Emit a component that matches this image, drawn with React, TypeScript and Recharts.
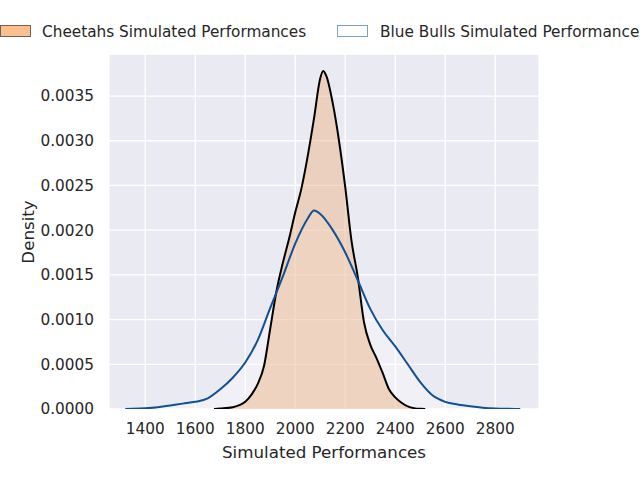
import { Area, CartesianGrid, ComposedChart, Label, Line, XAxis, YAxis } from 'recharts';

const cheetahX = [
  1675, 1700, 1750, 1800, 1825, 1850, 1875, 1900, 1925, 1950, 1975, 2000, 2025, 2050, 2075,
  2100, 2112, 2125, 2150, 2175, 2200, 2225, 2250, 2275, 2300, 2325, 2350, 2375, 2400, 2425,
  2450, 2475, 2500, 2520,
];
const cheetahDensity = [
  0, 0.000005, 0.00002, 0.00008, 0.00016, 0.00028, 0.00048, 0.0009, 0.00132, 0.00163, 0.0019,
  0.0022, 0.00247, 0.00283, 0.00325, 0.0037, 0.00378, 0.00372, 0.00342, 0.003, 0.00248, 0.00188,
  0.00148, 0.00097, 0.00072, 0.00057, 0.0004, 0.00022, 0.00013, 0.00007, 0.00003, 0.00001,
  0.000002, 0,
];

const bullsX = [
  1320, 1350, 1400, 1450, 1500, 1550, 1600, 1650, 1700, 1750, 1800, 1850, 1900, 1950, 2000,
  2050, 2075, 2100, 2150, 2200, 2250, 2300, 2350, 2400, 2450, 2500, 2550, 2600, 2650, 2700,
  2750, 2800, 2850, 2900,
];
const bullsDensity = [
  0, 0.000002, 0.000008, 0.00002, 0.00004, 0.00006, 0.00008, 0.00012, 0.00022, 0.00035,
  0.00052, 0.00077, 0.00113, 0.00148, 0.00185, 0.00213, 0.00222, 0.00218, 0.002, 0.00175,
  0.00144, 0.00112, 0.00088, 0.0007, 0.0005, 0.0003, 0.00015, 0.00008, 0.00005, 0.00003,
  0.000015, 0.000006, 0.000002, 0,
];

const xTicks = [1400, 1600, 1800, 2000, 2200, 2400, 2600, 2800];
const yTicks = [0, 0.0005, 0.001, 0.0015, 0.002, 0.0025, 0.003, 0.0035];

const seriesNames = ['Cheetahs Simulated Performances', 'Blue Bulls Simulated Performances'];

const cheetahData = cheetahX.map((x, i) => ({ x, d: cheetahDensity[i] }));
const bullsData = bullsX.map((x, i) => ({ x, d: bullsDensity[i] }));

const font = '"DejaVu Sans", sans-serif';
const textColor = '#262626';

function LegendRow() {
  const patch = (left: number, fill: string, edge: string) => (
    <div
      style={{
        position: 'absolute',
        left,
        top: 25,
        width: 29,
        height: 10,
        background: fill,
        border: `1px solid ${edge}`,
      }}
    />
  );
  const label = (left: number, text: string) => (
    <div
      style={{
        position: 'absolute',
        left,
        top: 22,
        fontSize: 15.3,
        lineHeight: '20px',
        whiteSpace: 'nowrap',
        color: textColor,
        fontFamily: font,
      }}
    >
      {text}
    </div>
  );
  return (
    <>
      {patch(0, '#fcbf8e', '#6e6258')}
      {label(42, seriesNames[0])}
      {patch(337, '#ffffff', '#7ba0c8')}
      {label(380, seriesNames[1])}
    </>
  );
}

export default function App() {
  return (
    <div
      style={{
        position: 'fixed',
        left: 0,
        top: 0,
        width: 640,
        height: 480,
        overflow: 'hidden',
        background: '#fff',
      }}
    >
      <ComposedChart
        width={640}
        height={480}
        margin={{ top: 54, right: 101, bottom: 0, left: 0 }}
      >
        <CartesianGrid fill="#eaeaf2" stroke="#ffffff" strokeWidth={1.3} />
        <XAxis
          type="number"
          dataKey="x"
          domain={[1255, 2975]}
          allowDataOverflow
          ticks={xTicks}
          height={71}
          axisLine={false}
          tickLine={false}
          tickMargin={8}
          tick={{ fill: textColor, fontSize: 15.3, fontFamily: font }}
        >
          <Label
            value="Simulated Performances"
            position="insideBottom"
            offset={22}
            fill={textColor}
            fontSize={16.7}
            fontFamily={font}
          />
        </XAxis>
        <YAxis
          type="number"
          domain={[0, 0.00397]}
          allowDataOverflow
          ticks={yTicks}
          width={109}
          axisLine={false}
          tickLine={false}
          tickMargin={9}
          tickFormatter={(v: number) => v.toFixed(4)}
          tick={{ fill: textColor, fontSize: 15.3, fontFamily: font }}
        >
          <Label
            content={() => (
              <text
                x={28}
                y={232}
                transform="rotate(-90 28 232)"
                textAnchor="middle"
                dominantBaseline="central"
                fill={textColor}
                fontSize={16.7}
                fontFamily={font}
              >
                Density
              </text>
            )}
          />
        </YAxis>
        <Area
          data={bullsData}
          dataKey="d"
          type="monotone"
          stroke="none"
          fill="#ffffff"
          fillOpacity={0.3}
          isAnimationActive={false}
        />
        <Area
          data={cheetahData}
          dataKey="d"
          type="monotone"
          stroke="#000000"
          strokeWidth={2}
          fill="#eeb080"
          fillOpacity={0.45}
          isAnimationActive={false}
        />
        <Line
          data={bullsData}
          dataKey="d"
          type="monotone"
          stroke="#134f93"
          strokeWidth={2}
          dot={false}
          isAnimationActive={false}
        />
      </ComposedChart>
      <LegendRow />
    </div>
  );
}
